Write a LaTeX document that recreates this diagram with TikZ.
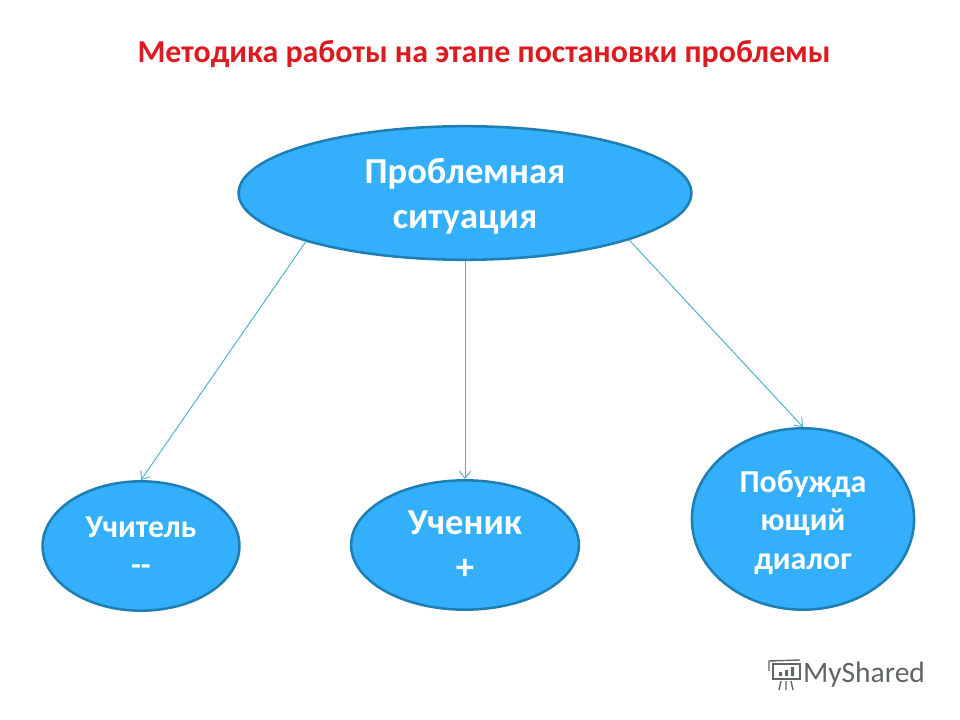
\documentclass[tikz,border=0pt]{standalone}
\usepackage{fontspec}
\setmainfont{Carlito}
\usepackage{tikz}
\usetikzlibrary{shapes.geometric, arrows.meta}
\definecolor{bluefill}{HTML}{33AFFB}
\definecolor{blueline}{HTML}{1F7FB4}
\definecolor{arrowline}{HTML}{4FB3CC}
\definecolor{titlered}{HTML}{DD1A20}
\definecolor{markgray}{HTML}{5F6664}
\tikzset{
	topic/.style={
		ellipse,
		draw=blueline,
		fill=bluefill,
		line width=1.8pt,
		align=center,
		inner sep=0pt,
		text=white,
		font=\bfseries
	},
	link/.style={
		draw=arrowline,
		line width=0.7pt,
		-{Straight Barb[length=5pt,width=8pt]}
	},
	markline/.style={
		draw=markgray,
		line width=1pt
	}
}
\begin{document}
\begin{tikzpicture}[x=0.025cm,y=-0.025cm]
	\useasboundingbox (0,0) rectangle (960,720);
	\node (title) at (484,54) [text=titlered, font=\fontsize{22.7pt}{27pt}\bfseries\selectfont] {Методика работы на этапе постановки проблемы};
	\node (situation) at (465,193) [topic, minimum width=322pt, minimum height=95pt, font=\fontsize{26pt}{32pt}\bfseries\selectfont] {\rule{0pt}{23pt}Проблемная\\ситуация};
	\node (teacher) at (141,546) [topic, minimum width=140pt, minimum height=92pt, font=\fontsize{22.7pt}{27.5pt}\bfseries\selectfont] {Учитель\\{-}{-}};
	\node (pupil) at (465,545) [topic, minimum width=162pt, minimum height=92pt, font=\fontsize{26pt}{32pt}\bfseries\selectfont] {Ученик\\+};
	\node (dialog) at (803,519) [topic, minimum width=158pt, minimum height=129pt, font=\fontsize{22.7pt}{27.5pt}\bfseries\selectfont] {\rule{0pt}{20.5pt}Побужда\\ющий\\диалог};
	%arrows:
	\draw[link] (situation.197.3) -- (teacher.north);
	\draw[link] (situation.south) -- (pupil.north);
	\draw[link] (situation.344) -- (dialog.north);
	%watermark:
	\node (shared) at (864,675) [text=markgray, font=\fontsize{21pt}{24pt}\selectfont] {MyShared};
	\draw[markline] (773,664) rectangle (800,679);
	\draw[markline] (769,671) -- (769,661) -- (800,660);
	\fill[markgray] (779,672) rectangle (782,676) (785,670) rectangle (788,676) (791,667) rectangle (794,676);
	\draw[markline] (781,681) -- (779,690) (786,681) -- (786,690) (791,681) -- (793,690);
\end{tikzpicture}
\end{document}
